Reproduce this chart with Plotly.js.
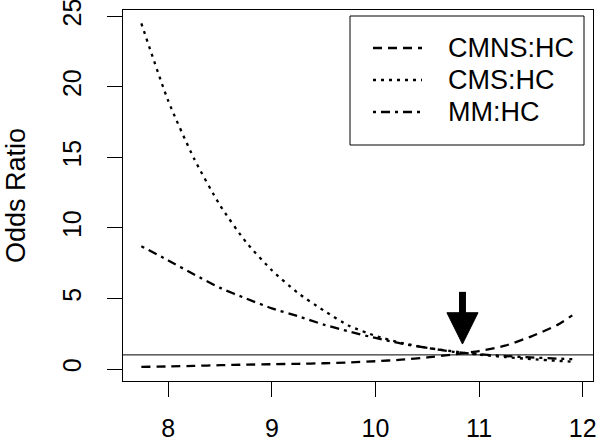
<!DOCTYPE html>
<html>
<head>
<meta charset="utf-8">
<script src="https://cdn.plot.ly/plotly-3.0.1.min.js"></script>
<style>
  html, body { margin: 0; padding: 0; background: #fff; }
  #chart { width: 600px; height: 448px; }
</style>
</head>
<body>
<div id="chart"></div>
<script>
// values
const ageValues = [7.74, 8.0, 8.25, 8.5, 8.75, 9.0, 9.25, 9.5, 9.75, 10.0, 10.25, 10.5, 10.75, 11.0, 11.25, 11.5, 11.75, 11.9];
const cmnsOdds = [0.15, 0.18, 0.22, 0.27, 0.31, 0.34, 0.37, 0.41, 0.47, 0.55, 0.66, 0.82, 1.03, 1.27, 1.65, 2.3, 3.1, 3.8];
const cmsOdds = [24.5, 19.0, 14.9, 11.6, 9.0, 7.0, 5.4, 4.15, 3.05, 2.35, 1.85, 1.5, 1.25, 1.02, 0.85, 0.7, 0.58, 0.52];
const mmOdds = [8.7, 7.7, 6.7, 5.75, 5.0, 4.3, 3.75, 3.15, 2.65, 2.2, 1.8, 1.5, 1.22, 1.05, 0.92, 0.82, 0.74, 0.7];

const seriesNames = ["CMNS:HC", "CMS:HC", "MM:HC"];
const xTicks = [8, 9, 10, 11, 12];
const yTicks = [0, 5, 10, 15, 20, 25];
const refLine = 1;

// arrow marking the crossing point
const arrowX = 10.84;
const arrowTop = 5.47;
const arrowHeadTop = 3.99;
const arrowTip = 1.77;

const FONT = "Liberation Sans, Arial, Helvetica, sans-serif";
const FS = 27;
const dashes = ["9px,6px", "3px,5px", "3px,5px,9px,5px"];

// plot box in pixels, used to place the hand-drawn legend
const M = { l: 123, r: 7, t: 10, b: 67, autoexpand: false };
const W = 600, H = 448;
const pw = W - M.l - M.r, ph = H - M.t - M.b;
const px = x => (x - M.l) / pw;
const py = y => 1 - (y - M.t) / ph;

const lineWidth = 2.3;
const traces = [cmnsOdds, cmsOdds, mmOdds].map((ys, i) => ({
  type: "scatter",
  mode: "lines",
  x: ageValues,
  y: ys,
  name: seriesNames[i],
  line: { color: "#000", width: lineWidth, dash: dashes[i], shape: "spline", smoothing: 0.6 },
  hoverinfo: "x+y+name",
  showlegend: false
}));

const headHalf = 0.15;
const shapes = [
  // reference line at odds ratio 1
  { type: "line", xref: "paper", x0: 0, x1: 1, yref: "y", y0: refLine, y1: refLine,
    line: { color: "#000", width: 1 } },
  // arrow shaft and head
  { type: "line", xref: "x", yref: "y", x0: arrowX, x1: arrowX, y0: arrowTop, y1: arrowHeadTop - 0.2,
    line: { color: "#000", width: 7 } },
  { type: "path", xref: "x", yref: "y",
    path: `M ${arrowX - headHalf} ${arrowHeadTop} L ${arrowX + headHalf} ${arrowHeadTop} L ${arrowX} ${arrowTip} Z`,
    fillcolor: "#000", line: { color: "#000", width: 1 } },
  // legend box
  { type: "rect", xref: "paper", yref: "paper", x0: px(350), x1: px(584), y0: py(145), y1: py(16),
    line: { color: "#000", width: 1 }, fillcolor: "#fff", layer: "below" }
];

const legendRows = [48, 80, 112];
const annotations = [];
legendRows.forEach((ry, i) => {
  shapes.push({ type: "line", xref: "paper", yref: "paper", x0: px(373), x1: px(422), y0: py(ry), y1: py(ry),
    line: { color: "#000", width: lineWidth, dash: dashes[i] } });
  annotations.push({ xref: "paper", yref: "paper", x: px(446), y: py(ry), xanchor: "left", yanchor: "middle",
    text: seriesNames[i], showarrow: false, font: { family: FONT, size: FS, color: "#000" } });
});

const axisCommon = {
  showgrid: false, zeroline: false, showline: true, mirror: true, automargin: false,
  linecolor: "#000", linewidth: 1,
  ticks: "outside", ticklen: 15, tickwidth: 1, tickcolor: "#000",
  ticklabeloverflow: "allow",
  tickfont: { family: FONT, size: 25, color: "#000" }
};

const layout = {
  width: W, height: H,
  margin: M,
  paper_bgcolor: "#fff",
  plot_bgcolor: "#fff",
  showlegend: false,
  font: { family: FONT, color: "#000" },
  xaxis: { ...axisCommon, range: [7.563, 12.1], tickvals: xTicks, ticklabelstandoff: 10 },
  yaxis: {
    ...axisCommon, range: [-0.85, 25.45], tickvals: yTicks, tickangle: -90, ticklabelstandoff: 16,
    title: { text: "Odds Ratio", standoff: 24, font: { family: FONT, size: FS, color: "#000" } }
  },
  shapes,
  annotations
};

Plotly.newPlot("chart", traces, layout, { displayModeBar: false, staticPlot: true });
</script>
</body>
</html>
